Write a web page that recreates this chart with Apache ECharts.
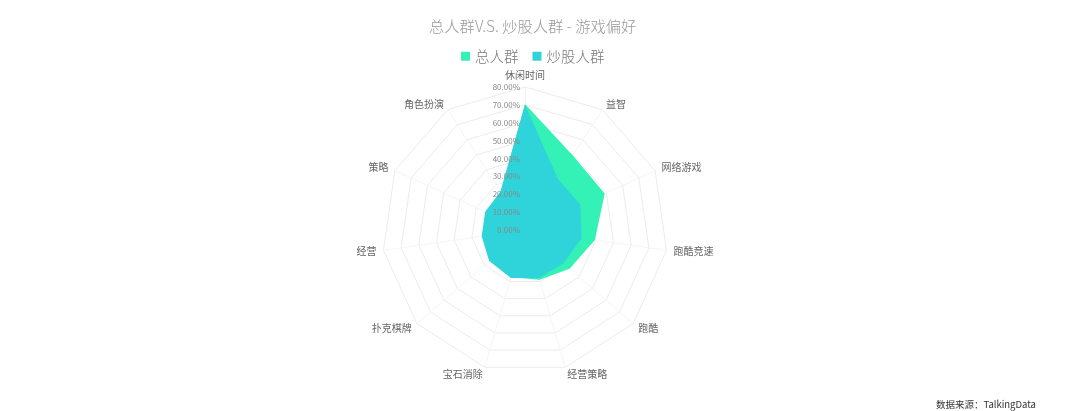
<!DOCTYPE html>
<html>
<head>
<meta charset="utf-8">
<script src="https://cdn.jsdelivr.net/npm/echarts@6/dist/echarts.min.js"></script>
<style>
html,body{margin:0;padding:0;background:#fff;}
#chart{width:1080px;height:411px;}
</style>
</head>
<body>
<div id="chart"></div>
<script>
// Indicators listed clockwise from the top, as in the picture
const categories = ['休闲时间','益智','网络游戏','跑酷竞速','跑酷','经营策略','宝石消除','扑克棋牌','经营','策略','角色扮演'];
const seriesNames = ['总人群','炒股人群'];
const totalValues = [70.5, 49.5, 49, 39.5, 33, 29, 27.5, 25.5, 24, 24, 25];
const stockValues = [70, 34, 34, 32, 28.5, 28, 28, 26.5, 24.5, 24.5, 25.5];
const axisMax = 80;
const titleText = '总人群V.S. 炒股人群 - 游戏偏好';
const sourceText = '数据来源：TalkingData';

// ECharts radar places indicators counter-clockwise; reorder to draw clockwise
const order = [0].concat(categories.map((_, i) => i).slice(1).reverse());
const reorder = arr => order.map(i => arr[i]);

const FONT = '"Noto Sans CJK SC", "Lato", sans-serif';
const CENTER = [525, 230];
const RADIUS = 143;

const baseIndicator = reorder(categories).map(name => ({ name: name, max: axisMax, min: 0 }));
const labelIndicator = reorder(categories).map((name, k) => {
  const ind = { name: '', max: axisMax, min: 0 };
  if (k === 0) {
    ind.axisLabel = {
      show: true,
      fontSize: 8,
      color: '#888',
      fontFamily: FONT,
      margin: 5,
      formatter: v => Number(v).toFixed(2) + '%'
    };
  }
  return ind;
});

const chart = echarts.init(document.getElementById('chart'), null, {renderer: 'canvas'});
chart.setOption({
  backgroundColor: '#fff',
  animation: false,
  title: [
    {
      text: titleText,
      left: 424,
      top: 14,
      textStyle: { fontSize: 15.3, color: '#999', fontWeight: 300, fontFamily: FONT }
    },
    {
      text: sourceText,
      left: 931,
      top: 395,
      textStyle: { fontSize: 9.5, color: '#333', fontWeight: 'normal', fontFamily: FONT }
    }
  ],
  legend: {
    data: seriesNames,
    left: 456,
    top: 44,
    icon: 'rect',
    itemWidth: 9,
    itemHeight: 9,
    itemGap: 14,
    textStyle: { fontSize: 14.5, color: '#777', fontFamily: FONT, fontWeight: 300 }
  },
  radar: [
    {
      center: CENTER,
      radius: RADIUS,
      startAngle: 90,
      splitNumber: 8,
      shape: 'polygon',
      nameGap: 7,
      axisName: { color: '#666', fontSize: 10, fontFamily: FONT },
      splitLine: { lineStyle: { color: '#ececec', width: 1 } },
      splitArea: { show: false },
      axisLine: { show: true, lineStyle: { color: '#f5f5f5' } },
      axisTick: { show: false },
      indicator: baseIndicator
    },
    {
      center: CENTER,
      radius: RADIUS,
      startAngle: 90,
      splitNumber: 8,
      shape: 'polygon',
      z: 10,
      axisName: { show: false },
      splitLine: { show: false },
      splitArea: { show: false },
      axisLine: { show: false },
      axisTick: { show: false },
      indicator: labelIndicator
    }
  ],
  series: [{
    type: 'radar',
    radarIndex: 0,
    symbol: 'none',
    data: [
      {
        name: seriesNames[0],
        value: reorder(totalValues),
        itemStyle: { color: '#34F1B6' },
        lineStyle: { width: 0, color: '#34F1B6' },
        areaStyle: { color: '#34F1B6', opacity: 1 }
      },
      {
        name: seriesNames[1],
        value: reorder(stockValues),
        itemStyle: { color: '#2FD3DA' },
        lineStyle: { width: 0, color: '#2FD3DA' },
        areaStyle: { color: '#2FD3DA', opacity: 1 }
      }
    ]
  }]
});
</script>
</body>
</html>
